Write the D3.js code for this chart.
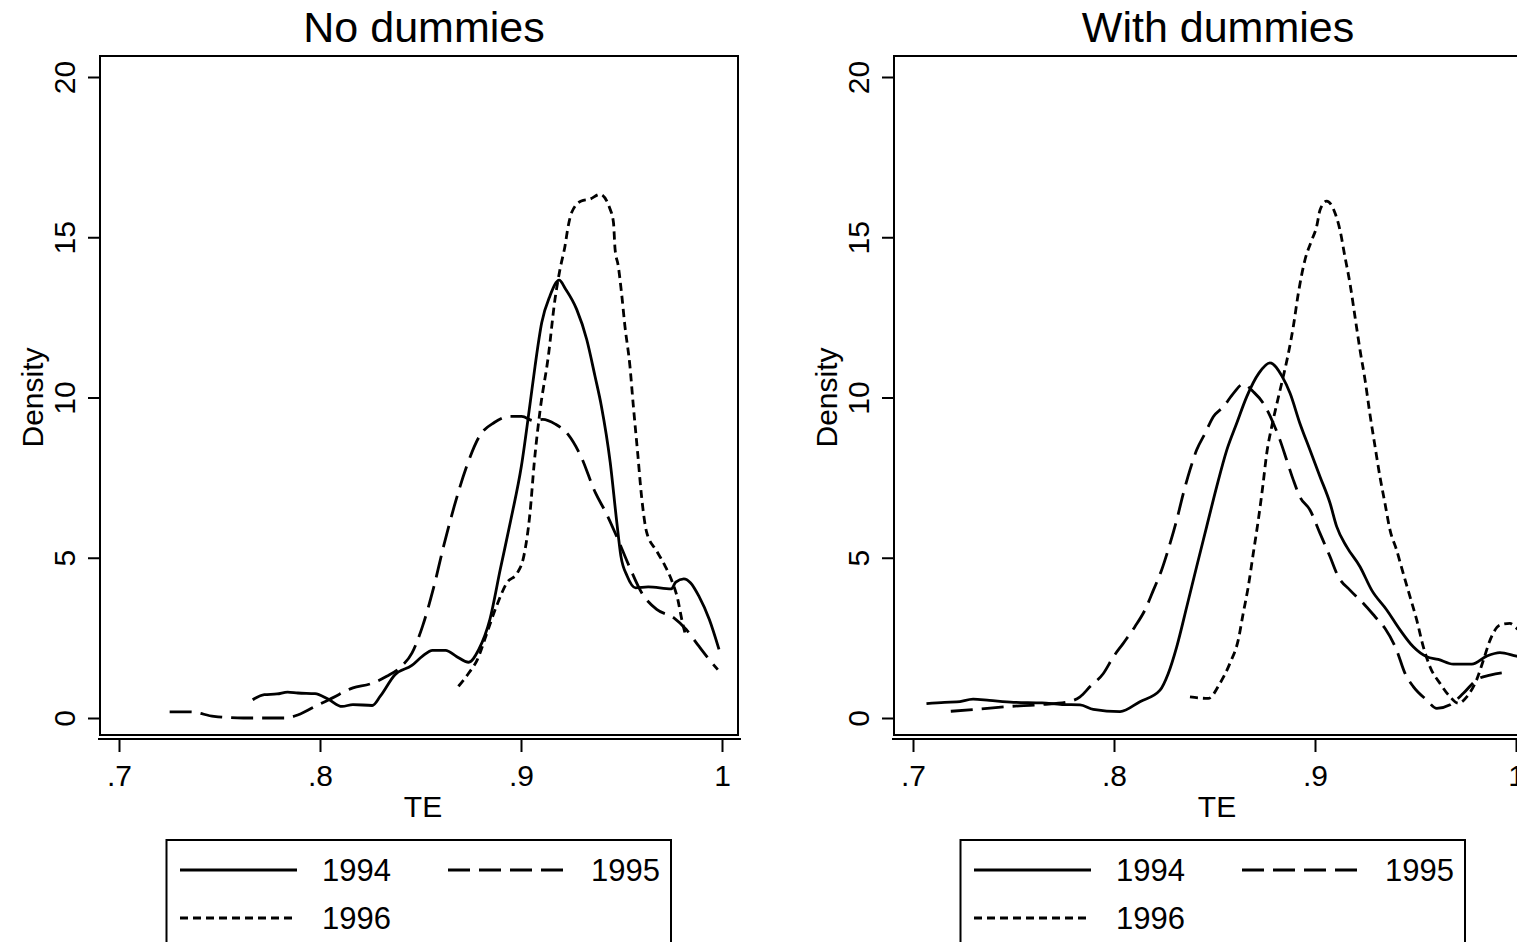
<!DOCTYPE html>
<html>
<head>
<meta charset="utf-8">
<script src="https://cdn.jsdelivr.net/npm/d3@7"></script>
<style>
  body { margin: 0; background: #fff; }
  text { font-family: "Liberation Sans", Arial, sans-serif; fill: #000; }
</style>
</head>
<body>
<script>
// Kernel density estimates of TE

// No dummies
const nd94x = [0.7665,0.7723,0.7786,0.7839,0.789,0.7975,0.804,0.811,0.8164,0.826,0.830,0.8373,0.8457,0.851,0.856,0.8625,0.8677,0.874,0.879,0.8845,0.8897,0.895,0.9002,0.9045,0.907,0.9103,0.9144,0.919,0.922,0.9277,0.9327,0.9368,0.940,0.9444,0.9475,0.9497,0.9528,0.957,0.9633,0.9748,0.977,0.981,0.9843,0.9885,0.9937,0.9985]
const nd94y = [0.57,0.73,0.75,0.81,0.78,0.76,0.59,0.36,0.42,0.39,0.68,1.35,1.64,1.93,2.11,2.11,1.93,1.74,2.14,3.07,4.64,6.2,7.86,9.8,10.98,12.33,13.17,13.66,13.4,12.75,11.81,10.67,9.73,7.97,6.2,5.05,4.43,4.06,4.09,4.03,4.24,4.34,4.22,3.8,3.07,2.14]

const nd95x = [0.7252,0.7357,0.7472,0.7619,0.783,0.7892,0.7975,0.806,0.8164,0.8248,0.8332,0.8405,0.8458,0.851,0.8563,0.8615,0.8668,0.873,0.8794,0.8867,0.894,0.9003,0.9066,0.9108,0.9171,0.9234,0.9297,0.937,0.9423,0.9475,0.9538,0.9601,0.9675,0.9759,0.9822,0.9885,0.9937,0.9979]
const nd95y = [0.19,0.19,0.05,0,0,0.10,0.36,0.62,0.94,1.06,1.30,1.61,2.03,2.86,4.01,5.36,6.61,7.86,8.8,9.22,9.41,9.41,9.27,9.32,9.17,8.85,8.18,7.03,6.4,5.68,4.74,3.9,3.39,3.13,2.76,2.24,1.82,1.51]

const nd96x = [0.8689,0.8741,0.8783,0.8825,0.8878,0.893,0.8982,0.9014,0.9045,0.9066,0.9095,0.9136,0.9169,0.9194,0.9219,0.9235,0.9252,0.930,0.9343,0.9393,0.9443,0.946,0.9468,0.9484,0.950,0.9517,0.9542,0.9559,0.958,0.960,0.9625,0.9675,0.9717,0.9748,0.978,0.980,0.982]
const nd96y = [0.99,1.41,1.82,2.55,3.49,4.22,4.53,5.05,6.41,7.97,9.6,11.29,13.06,14.0,14.73,15.35,15.77,16.13,16.19,16.34,15.88,15.46,14.63,14.1,13.27,12.23,10.98,9.73,8.3,6.9,5.8,5.21,4.74,4.32,3.7,3.07,2.55]

// With dummies
const wd94x = [0.7067,0.7157,0.7218,0.7299,0.738,0.75,0.7642,0.7742,0.7831,0.7897,0.803,0.8129,0.8229,0.827,0.8312,0.8362,0.8411,0.8461,0.8511,0.8561,0.861,0.866,0.8721,0.8776,0.8837,0.8876,0.8925,0.8975,0.9025,0.9075,0.9108,0.9158,0.9224,0.9282,0.9357,0.9423,0.9489,0.9556,0.9613,0.9688,0.978,0.9854,0.992,1.0003,1.008]
const wd94y = [0.45,0.49,0.50,0.59,0.55,0.49,0.47,0.42,0.41,0.27,0.20,0.51,0.87,1.39,2.22,3.47,4.72,5.97,7.22,8.36,9.19,10.02,10.76,11.08,10.65,10.13,9.19,8.36,7.53,6.70,5.97,5.34,4.72,3.99,3.37,2.75,2.22,1.91,1.83,1.68,1.68,1.93,2.04,1.93,1.85]

const wd95x = [0.7188,0.7299,0.748,0.7642,0.7783,0.7831,0.7881,0.7947,0.7997,0.8046,0.8104,0.8154,0.8196,0.8237,0.8279,0.8312,0.8345,0.8378,0.8411,0.8453,0.8494,0.8544,0.8594,0.8643,0.8693,0.8743,0.8793,0.8826,0.8859,0.8892,0.8925,0.8975,0.9025,0.9075,0.9116,0.9174,0.924,0.9299,0.9348,0.9406,0.9448,0.9489,0.9556,0.9606,0.9672,0.9738,0.9804,0.9871,0.997]
const wd95y = [0.21,0.26,0.36,0.42,0.52,0.66,0.98,1.39,1.91,2.33,2.85,3.37,3.99,4.62,5.45,6.18,7.01,7.74,8.36,8.88,9.40,9.71,10.13,10.42,10.18,9.82,9.19,8.67,8.05,7.43,6.90,6.49,5.76,5.03,4.41,3.99,3.58,3.16,2.80,2.12,1.39,0.98,0.56,0.30,0.41,0.77,1.19,1.34,1.44]

const wd96x = [0.8378,0.8469,0.8527,0.8577,0.8618,0.8643,0.8668,0.8693,0.8718,0.874,0.876,0.8785,0.881,0.884,0.8865,0.8892,0.8917,0.895,0.8984,0.9008,0.9025,0.9058,0.91,0.9124,0.9149,0.9174,0.9199,0.9224,0.9249,0.9274,0.9299,0.9323,0.9348,0.9373,0.9406,0.9439,0.9473,0.9506,0.9539,0.9572,0.9622,0.9672,0.9713,0.9755,0.9804,0.9838,0.9871,0.992,0.997,1.0003,1.006]
const wd96y = [0.66,0.61,1.08,1.71,2.43,3.27,4.10,5.14,6.18,7.22,8.26,9.1,9.8,10.6,11.3,12.21,13.25,14.29,14.91,15.33,15.85,16.13,15.75,15.23,14.39,13.56,12.52,11.48,10.55,9.45,8.46,7.53,6.70,5.87,5.24,4.51,3.78,3.06,2.22,1.60,1.08,0.66,0.46,0.66,1.19,1.81,2.43,2.90,2.95,2.80,2.6]

// Labels and ticks
const panelTitles = ['No dummies', 'With dummies']
const years = ['1994', '1995', '1996']
const xTicks = [0.7, 0.8, 0.9, 1]
const xTickLabels = ['.7', '.8', '.9', '1']
const yTicks = [0, 5, 10, 15, 20]

// Declare SVG
const svg = d3.select('body').append('svg')
    .attr('width', 1517)
    .attr('height', 942)
    .style('background-color', 'white')

const dashes = [null, '22,9', '8,5']

const panels = [
    { title: panelTitles[0], offset: 0, series: [[nd94x, nd94y], [nd95x, nd95y], [nd96x, nd96y]] },
    { title: panelTitles[1], offset: 794, series: [[wd94x, wd94y], [wd95x, wd95y], [wd96x, wd96y]] }
]

// Scales (shared by both panels, each panel is shifted by its offset)
const xScale = d3.scaleLinear().domain([0.7, 1]).range([119, 722])
const yScale = d3.scaleLinear().domain([0, 20]).range([718, 77])

const box = { left: 100, top: 56, right: 738, bottom: 735 }

panels.forEach((p, pi) => {
    const g = svg.append('g').attr('transform', `translate(${p.offset},0)`)

    // Title
    g.append('text')
        .attr('x', 424).attr('y', 42)
        .attr('text-anchor', 'middle')
        .style('font-size', '43px')
        .text(p.title)

    // Plot region
    g.append('rect')
        .attr('x', box.left).attr('y', box.top)
        .attr('width', box.right - box.left).attr('height', box.bottom - box.top)
        .style('fill', 'none').style('stroke', 'black').style('stroke-width', 2)

    g.append('clipPath').attr('id', 'clip' + pi)
        .append('rect')
        .attr('x', box.left).attr('y', box.top)
        .attr('width', box.right - box.left).attr('height', box.bottom - box.top)

    // y axis
    const yAxis = g.append('g')
        .attr('transform', `translate(${box.left},0)`)
        .call(d3.axisLeft(yScale).tickValues(yTicks).tickSize(12))
    yAxis.select('.domain').remove()
    yAxis.selectAll('.tick line').style('stroke-width', 2)
    yAxis.selectAll('.tick text').remove()
    yAxis.selectAll('.tick').append('text')
        .attr('transform', 'translate(-25,0) rotate(-90)')
        .attr('text-anchor', 'middle')
        .style('font-size', '30px')
        .style('font-family', '"Liberation Sans", Arial, sans-serif')
        .style('fill', 'black')
        .text(d => d)

    g.append('text')
        .attr('transform', 'translate(43,397.5) rotate(-90)')
        .attr('text-anchor', 'middle')
        .style('font-size', '30px')
        .text('Density')

    // x axis
    g.append('line')
        .attr('x1', box.left - 2).attr('x2', box.right + 3)
        .attr('y1', 739).attr('y2', 739)
        .style('stroke', 'black').style('stroke-width', 2)
    const xAxis = g.append('g')
        .attr('transform', 'translate(0,739)')
        .call(d3.axisBottom(xScale).tickValues(xTicks).tickSize(13))
    xAxis.select('.domain').remove()
    xAxis.selectAll('.tick line').style('stroke-width', 2)
    xAxis.selectAll('.tick text').remove()
    xAxis.selectAll('.tick').append('text')
        .attr('y', 47)
        .attr('text-anchor', 'middle')
        .style('font-size', '30px')
        .style('font-family', '"Liberation Sans", Arial, sans-serif')
        .style('fill', 'black')
        .text((d, i) => xTickLabels[i])

    g.append('text')
        .attr('x', 423).attr('y', 817)
        .attr('text-anchor', 'middle')
        .style('font-size', '30px')
        .text('TE')

    // Density curves
    const line = d3.line()
        .x(d => xScale(d[0]))
        .y(d => yScale(d[1]))
        .curve(d3.curveMonotoneX)

    const curves = g.append('g').attr('clip-path', `url(#clip${pi})`)
    p.series.forEach((s, si) => {
        const pts = s[0].map((xv, k) => [xv, s[1][k]])
        curves.append('path')
            .datum(pts)
            .attr('d', line)
            .style('fill', 'none')
            .style('stroke', 'black')
            .style('stroke-width', 2.8)
            .style('stroke-dasharray', dashes[si])
    })

    // Legend
    const lg = g.append('g')
    lg.append('rect')
        .attr('x', 166.5).attr('y', 840)
        .attr('width', 504.5).attr('height', 140)
        .style('fill', 'white').style('stroke', 'black').style('stroke-width', 2)
    const items = [
        { x1: 180, x2: 297, tx: 322, y: 870 },
        { x1: 448, x2: 567, tx: 591, y: 870 },
        { x1: 180, x2: 297, tx: 322, y: 918 }
    ]
    items.forEach((it, i) => {
        lg.append('line')
            .attr('x1', it.x1).attr('x2', it.x2)
            .attr('y1', it.y).attr('y2', it.y)
            .style('stroke', 'black').style('stroke-width', 2.8)
            .style('stroke-dasharray', dashes[i])
        lg.append('text')
            .attr('x', it.tx).attr('y', it.y + 11)
            .style('font-size', '31px')
            .text(years[i])
    })
})
</script>
</body>
</html>
